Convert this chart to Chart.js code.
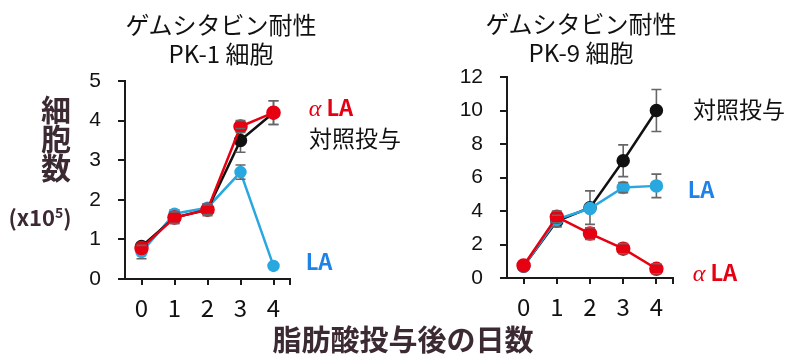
<!DOCTYPE html>
<html>
<head>
<meta charset="utf-8">
<script src="https://cdn.jsdelivr.net/npm/chart.js@4.4.0/dist/chart.umd.min.js"></script>
<style>
  body { margin: 0; background: #fff; }
  #wrap { position: relative; width: 788px; height: 358px; overflow: hidden; font-family: "Noto Sans CJK JP", sans-serif; }
  .pane { position: absolute; top: 0; }
  .txt { position: absolute; transform: translate(-50%, -50%); white-space: nowrap; line-height: 1; }
  .title { font-size: 24px; color: #111; text-align: center; line-height: 29px; }
  .dark { color: #3c2a33; font-weight: 700; }
  .red { color: #e60012; }
  .blue { color: #1e82e6; }
  .alpha { font-family: "Liberation Serif", serif; font-style: italic; font-weight: 400; font-size: 24px; }
</style>
</head>
<body>
<div id="wrap">
  <div class="pane" style="left:0;width:400px;height:358px"><canvas id="pk1" width="400" height="358"></canvas></div>
  <div class="pane" style="left:400px;width:388px;height:358px"><canvas id="pk9" width="388" height="358"></canvas></div>

  <div class="txt title" style="left:221px;top:38px">ゲムシタビン耐性<br>PK-1 細胞</div>
  <div class="txt title" style="left:581px;top:37px">ゲムシタビン耐性<br>PK-9 細胞</div>

  <div class="txt dark" style="left:56px;top:137px;font-size:30px;line-height:29px;text-align:center">細<br>胞<br>数</div>
  <div class="txt dark" style="left:40px;top:216px;font-size:22px">(x10<sup style="font-size:14px">5</sup>)</div>
  <div class="txt dark" style="left:403px;top:338px;font-size:29px">脂肪酸投与後の日数</div>

  <div class="txt red" style="left:331px;top:107px;font-size:22px;font-weight:700"><span class="alpha">α</span> LA</div>
  <div class="txt" style="left:355px;top:137px;font-size:23px;color:#111">対照投与</div>
  <div class="txt blue" style="left:319px;top:260px;font-size:22px;font-weight:700">LA</div>

  <div class="txt" style="left:739px;top:108px;font-size:23px;color:#111">対照投与</div>
  <div class="txt blue" style="left:701px;top:188px;font-size:22px;font-weight:700">LA</div>
  <div class="txt red" style="left:715px;top:272px;font-size:22px;font-weight:700"><span class="alpha">α</span> LA</div>
</div>

<script>
// days after fatty acid treatment
const days = [0, 1, 2, 3, 4];

// PK-1 cell counts (x10^5) with error
const pk1Control = [0.82, 1.55, 1.75, 3.5, 4.2];
const pk1ControlErr = [0.08, 0.15, 0.12, 0.3, 0.3];
const pk1Ala = [0.78, 1.55, 1.75, 3.85, 4.2];
const pk1AlaErr = [0.06, 0.15, 0.15, 0.15, 0.3];
const pk1La = [0.68, 1.65, 1.8, 2.7, 0.33];
const pk1LaErr = [0.17, 0.1, 0.1, 0.18, 0.05];

// PK-9 cell counts (x10^5) with error
const pk9Control = [0.7, 3.4, 4.2, 7.0, 10.0];
const pk9ControlErr = [0.1, 0.35, 1.0, 0.95, 1.25];
const pk9La = [0.7, 3.5, 4.15, 5.4, 5.5];
const pk9LaErr = [0.1, 0.2, 0.2, 0.3, 0.7];
const pk9Ala = [0.75, 3.65, 2.65, 1.75, 0.55];
const pk9AlaErr = [0.1, 0.35, 0.35, 0.3, 0.3];

const RED = '#e60012';
const BLUE = '#29a8e0';
const BLACK = '#111111';
const AXIS = '#1a1a1a';

function eachBar(chart, draw) {
    const xs = chart.scales.x, ys = chart.scales.y;
    chart.data.datasets.forEach(ds => {
        ds.data.forEach((p, i) => {
            const e = ds.errors[i];
            draw(xs.getPixelForValue(p.x), ys.getPixelForValue(p.y + e), ys.getPixelForValue(p.y - e));
        });
    });
}

// short bars stay hidden behind their marker; longer ones get caps on top
function drawBars(chart, onTop) {
    const ctx = chart.ctx;
    ctx.save();
    ctx.strokeStyle = '#666';
    ctx.lineWidth = 1.6;
    eachBar(chart, (px, top, bot) => {
        const showCaps = (bot - top) / 2 > 4;
        ctx.beginPath();
        if (!onTop) {
            ctx.moveTo(px, top); ctx.lineTo(px, bot);
        }
        if (showCaps === onTop) {
            ctx.moveTo(px - 5, top); ctx.lineTo(px + 5, top);
            ctx.moveTo(px - 5, bot); ctx.lineTo(px + 5, bot);
        }
        ctx.stroke();
    });
    ctx.restore();
}

const errorBars = {
    id: 'errorBars',
    beforeDatasetsDraw(chart) { drawBars(chart, false); },
    afterDatasetsDraw(chart) { drawBars(chart, true); }
};

function series(values, errors, color, radius) {
    return {
        data: values.map((v, i) => ({ x: days[i], y: v })),
        errors: errors,
        borderColor: color,
        backgroundColor: color,
        pointBackgroundColor: color,
        pointBorderColor: color,
        borderWidth: 2.5,
        pointRadius: radius,
        pointHoverRadius: radius,
        tension: 0
    };
}

function makeChart(id, datasets, yMax, yStep, pad, yWidth) {
    new Chart(document.getElementById(id), {
        type: 'line',
        data: { datasets: datasets },
        plugins: [errorBars],
        options: {
            responsive: false,
            animation: false,
            events: [],
            layout: { padding: pad },
            plugins: { legend: { display: false }, tooltip: { enabled: false } },
            scales: {
                x: {
                    type: 'linear',
                    min: -0.5,
                    max: 4.5,
                    afterBuildTicks: axis => { axis.ticks = [0, 1, 2, 3, 4, 4.5].map(v => ({ value: v })); },
                    afterFit: axis => { axis.height = 40; },
                    border: { display: true, color: AXIS, width: 2 },
                    grid: { drawOnChartArea: false, drawTicks: true, tickLength: 6, color: AXIS, lineWidth: 2 },
                    ticks: {
                        padding: 8,
                        color: '#111',
                        font: { family: 'Noto Sans CJK JP', size: 24 },
                        callback: v => Number.isInteger(v) ? String(v) : ''
                    }
                },
                y: {
                    min: 0,
                    max: yMax,
                    afterFit: axis => { axis.width = yWidth; },
                    border: { display: true, color: AXIS, width: 2 },
                    grid: { drawOnChartArea: false, drawTicks: true, tickLength: 7, color: AXIS, lineWidth: 2 },
                    ticks: {
                        stepSize: yStep,
                        padding: 17,
                        color: '#111',
                        font: { family: 'Liberation Sans', size: 21 }
                    }
                }
            }
        }
    });
}

// first dataset is painted last, so alpha-LA goes first to sit on top
makeChart('pk1', [
    series(pk1Ala, pk1AlaErr, RED, 6),
    series(pk1Control, pk1ControlErr, BLACK, 5.5),
    series(pk1La, pk1LaErr, BLUE, 5)
], 5, 1, { left: 85, top: 81, right: 110, bottom: 39 }, 40);

makeChart('pk9', [
    series(pk9Ala, pk9AlaErr, RED, 6),
    series(pk9La, pk9LaErr, BLUE, 5.5),
    series(pk9Control, pk9ControlErr, BLACK, 5.5)
], 12, 2, { left: 57, top: 77, right: 115, bottom: 40 }, 50);
</script>
</body>
</html>
